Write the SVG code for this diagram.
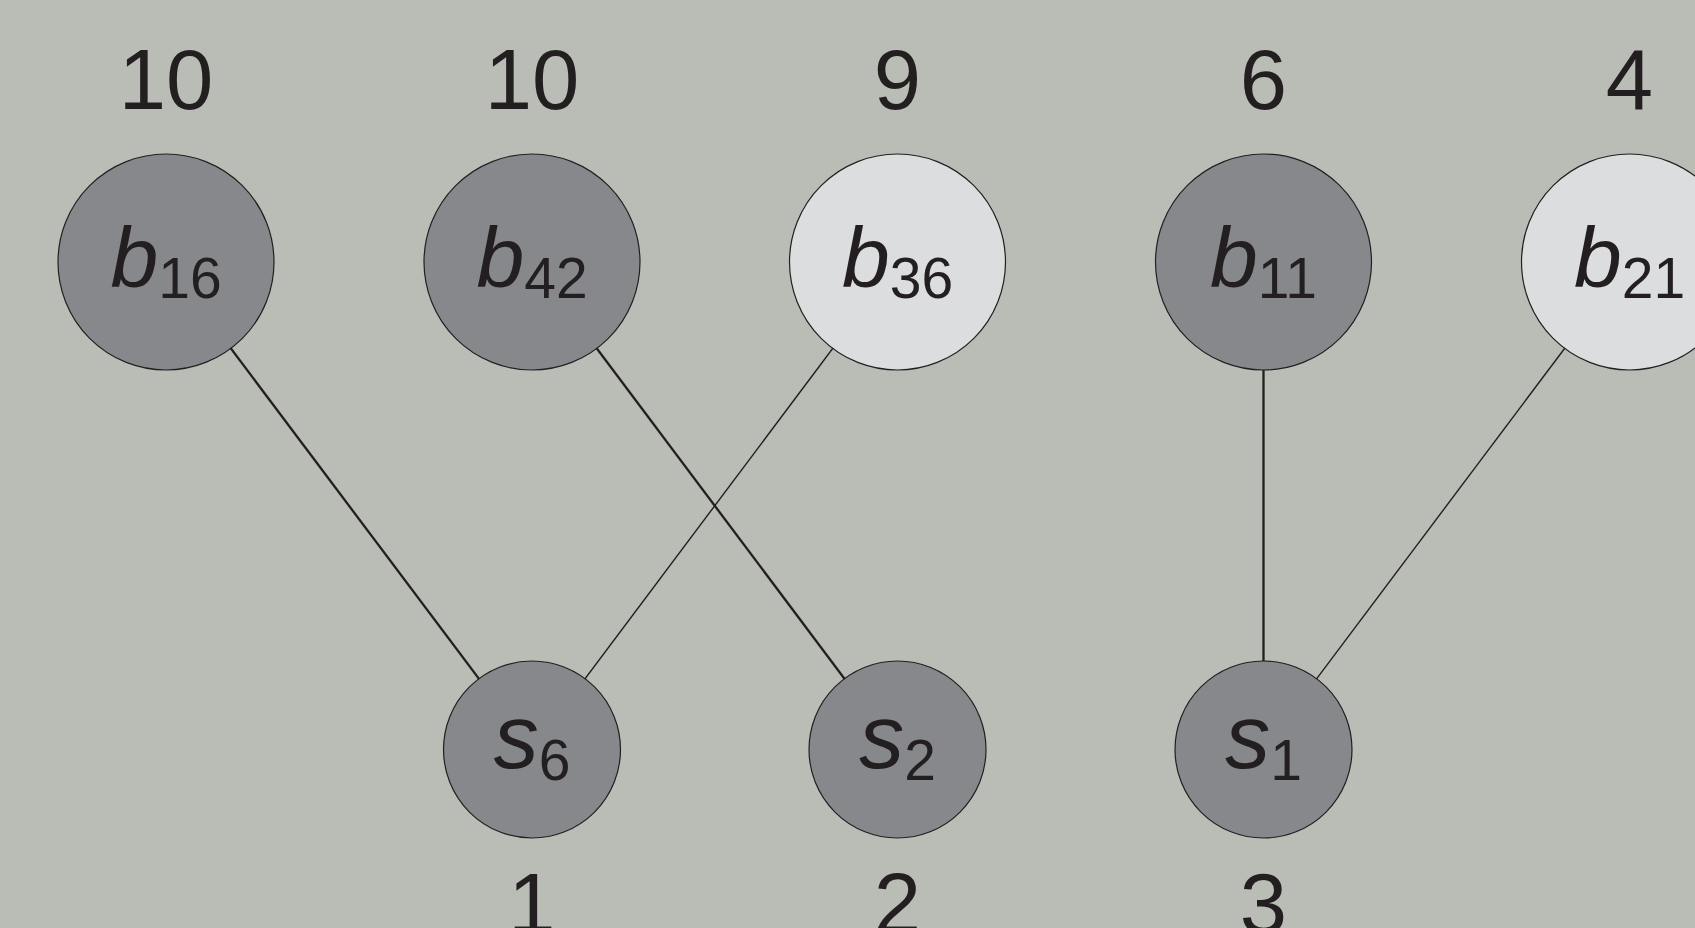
<svg xmlns="http://www.w3.org/2000/svg" width="1695" height="928" viewBox="0 0 1695 928">
<style>
.bg{fill:#babdb5}
.dark{fill:#87888c;stroke:#231f20;stroke-width:1.2}
.light{fill:#dcdddf;stroke:#231f20;stroke-width:1.2}
.thick{stroke:#231f20;stroke-width:2.3;fill:none}
.thin{stroke:#231f20;stroke-width:1.4;fill:none}
text{font-family:"Liberation Sans",Arial,sans-serif;fill:#231f20}
.num{font-size:85px;text-anchor:middle}
.lab{text-anchor:middle}
.v{font-style:italic}
.bv{font-size:86px}
.sv{font-size:90px}
.sub{font-size:57px}
</style>
<rect class="bg" x="0" y="0" width="1695" height="928"/>
<g id="connectors">
<line class="thick" x1="166" y1="262" x2="532" y2="749.5"/>
<line class="thick" x1="532" y1="262" x2="897.5" y2="749.5"/>
<line class="thin" x1="897.5" y1="262" x2="532" y2="749.5"/>
<line class="thick" x1="1263.5" y1="262" x2="1263.5" y2="749.5"/>
<line class="thin" x1="1629.5" y1="262" x2="1263.5" y2="749.5"/>
</g>
<g id="b16">
<text class="num" x="166" y="109">10</text>
<circle class="dark" cx="166" cy="262" r="108"/>
<text class="lab" x="166" y="287"><tspan class="v bv">b</tspan><tspan class="sub" dy="11">16</tspan></text>
</g>
<g id="b42">
<text class="num" x="532" y="109">10</text>
<circle class="dark" cx="532" cy="262" r="108"/>
<text class="lab" x="532" y="287"><tspan class="v bv">b</tspan><tspan class="sub" dy="11">42</tspan></text>
</g>
<g id="b36">
<text class="num" x="897.5" y="109">9</text>
<circle class="light" cx="897.5" cy="262" r="108"/>
<text class="lab" x="897.5" y="287"><tspan class="v bv">b</tspan><tspan class="sub" dy="11">36</tspan></text>
</g>
<g id="b11">
<text class="num" x="1263.5" y="109">6</text>
<circle class="dark" cx="1263.5" cy="262" r="108"/>
<text class="lab" x="1263.5" y="287"><tspan class="v bv">b</tspan><tspan class="sub" dy="11">11</tspan></text>
</g>
<g id="b21">
<text class="num" x="1629.5" y="109">4</text>
<circle class="light" cx="1629.5" cy="262" r="108"/>
<text class="lab" x="1629.5" y="287"><tspan class="v bv">b</tspan><tspan class="sub" dy="11">21</tspan></text>
</g>
<g id="s6">
<circle class="dark" cx="532" cy="749.5" r="88.5"/>
<text class="lab" x="532" y="768"><tspan class="v sv">s</tspan><tspan class="sub" dy="12">6</tspan></text>
<text class="num" x="532" y="933">1</text>
</g>
<g id="s2">
<circle class="dark" cx="897.5" cy="749.5" r="88.5"/>
<text class="lab" x="897.5" y="768"><tspan class="v sv">s</tspan><tspan class="sub" dy="12">2</tspan></text>
<text class="num" x="897.5" y="933">2</text>
</g>
<g id="s1">
<circle class="dark" cx="1263.5" cy="749.5" r="88.5"/>
<text class="lab" x="1263.5" y="768"><tspan class="v sv">s</tspan><tspan class="sub" dy="12">1</tspan></text>
<text class="num" x="1263.5" y="933">3</text>
</g>
</svg>
